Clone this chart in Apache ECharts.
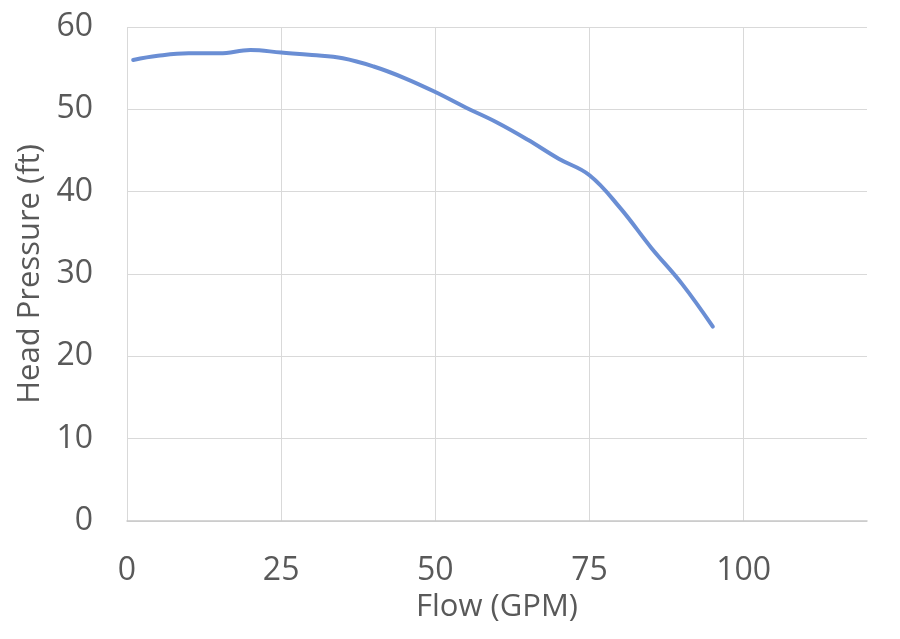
<!DOCTYPE html>
<html>
<head>
<meta charset="utf-8">
<script src="https://cdn.jsdelivr.net/npm/echarts@6/dist/echarts.min.js"></script>
<style>
html,body{margin:0;padding:0;background:#fff;}
#chart{width:900px;height:639px;}
</style>
</head>
<body>
<div id="chart"></div>
<script>
var flow = [1, 5, 10, 15, 20, 25, 30, 35, 40, 45, 50, 55, 60, 65, 70, 75, 80, 85, 90, 95];
var head = [56.0, 56.5, 56.8, 56.8, 57.2, 56.9, 56.6, 56.2, 55.2, 53.8, 52.1, 50.2, 48.4, 46.3, 44.0, 42.0, 38.0, 33.2, 28.8, 23.6];
var xTitle = 'Flow (GPM)';
var yTitle = 'Head Pressure (ft)';

var points = flow.map(function (f, i) { return [f, head[i]]; });
var font = '"Open Sans", "Noto Sans", sans-serif';
var chart = echarts.init(document.getElementById('chart'));
chart.setOption({
  animation: false,
  backgroundColor: '#ffffff',
  grid: { left: 127, right: 33, top: 27, bottom: 118, containLabel: false },
  xAxis: {
    type: 'value', min: 0, max: 120, interval: 25,
    name: xTitle, nameLocation: 'middle', nameGap: 58,
    nameTextStyle: { color: '#595959', fontSize: 31, fontFamily: font },
    axisLine: { show: true, lineStyle: { color: '#c8c8c8', width: 1.5 } },
    axisTick: { show: false },
    axisLabel: { color: '#595959', fontSize: 32, fontFamily: font, margin: 34, showMaxLabel: false },
    splitLine: { show: true, showMaxLine: false, lineStyle: { color: '#d9d9d9', width: 1 } }
  },
  yAxis: {
    type: 'value', min: 0, max: 60, interval: 10,
    name: yTitle, nameLocation: 'middle', nameGap: 81,
    nameTextStyle: { color: '#595959', fontSize: 31, fontFamily: font },
    axisLine: { show: false },
    axisTick: { show: false },
    axisLabel: { color: '#595959', fontSize: 32, fontFamily: font, margin: 34 },
    splitLine: { show: true, lineStyle: { color: '#d9d9d9', width: 1 } }
  },
  series: [{
    type: 'line',
    data: points,
    smooth: 0.4,
    showSymbol: false,
    lineStyle: { color: '#6a8ed4', width: 4, cap: 'round' }
  }]
});
</script>
</body>
</html>
